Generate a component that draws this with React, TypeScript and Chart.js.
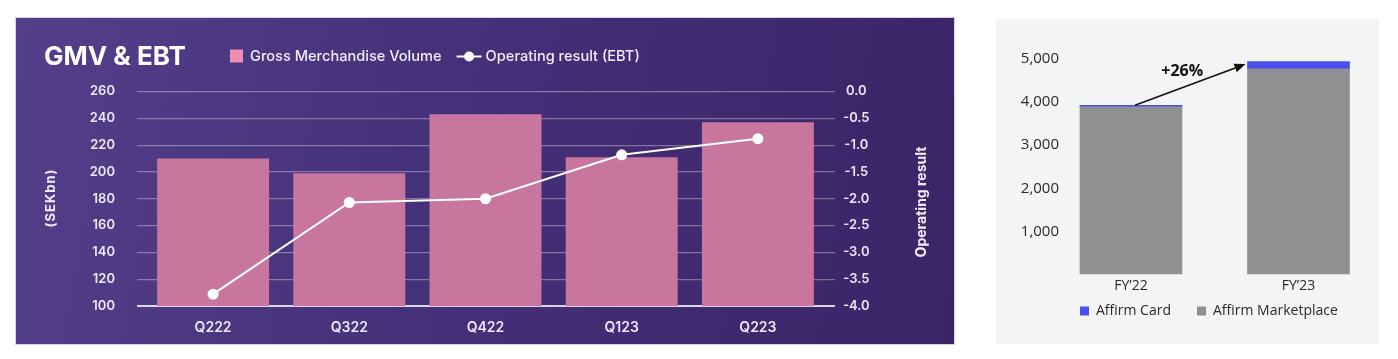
import React, { useEffect, useRef } from 'react';
import { Chart, registerables } from 'chart.js';

Chart.register(...registerables);

// ---------- Left chart data (Klarna) ----------
const quarters = ['Q222', 'Q322', 'Q422', 'Q123', 'Q223'];
const gmvValues = [210, 199, 243, 211, 237];
const ebtValues = [-3.78, -2.07, -2.0, -1.18, -0.88];
const leftTitle = 'GMV & EBT';
const gmvLabel = 'Gross Merchandise Volume';
const ebtLabel = 'Operating result (EBT)';
const leftAxisTitle = '(SEKbn)';
const rightAxisTitle = 'Operating result';

// ---------- Right chart data (Affirm) ----------
const fiscalYears = ['FY\u201922', 'FY\u201923'];
const affirmMarketplace = [3890, 4770];
const affirmCard = [35, 170];
const growthLabel = '+26%';

const LEFT_W = 938;
const LEFT_H = 326;
const RIGHT_W = 383;
const RIGHT_H = 325;

const TICK_COLOR = '#ebe6f3';
const BAR_PINK = '#c9769f';
const LEGEND_PINK = '#f08db3';

const leftOverlay = {
  id: 'leftOverlay',
  afterDraw(chart: any) {
    const ctx = chart.ctx as CanvasRenderingContext2D;
    ctx.save();
    // title
    ctx.fillStyle = '#ffffff';
    ctx.font = '700 26px Inter';
    ctx.textBaseline = 'alphabetic';
    ctx.textAlign = 'left';
    ctx.fillText(leftTitle, 28, 47);

    // legend
    const ly = 38.5;
    ctx.fillStyle = LEGEND_PINK;
    ctx.fillRect(214, 31.5, 13, 13);
    ctx.font = '500 14.6px Inter';
    ctx.fillStyle = '#f1ecf7';
    ctx.textBaseline = 'middle';
    const barLbl = chart.data.datasets[1].label;
    const lineLbl = chart.data.datasets[0].label;
    ctx.fillText(barLbl, 234, ly);
    const x = 234 + ctx.measureText(barLbl).width + 15;
    ctx.strokeStyle = '#ffffff';
    ctx.lineWidth = 2;
    ctx.beginPath();
    ctx.moveTo(x, ly);
    ctx.lineTo(x + 25, ly);
    ctx.stroke();
    ctx.fillStyle = '#ffffff';
    ctx.beginPath();
    ctx.arc(x + 12.5, ly, 5, 0, Math.PI * 2);
    ctx.fill();
    ctx.fillStyle = '#f1ecf7';
    ctx.fillText(lineLbl, x + 29, ly);

    // axis titles (both read bottom-to-top)
    ctx.fillStyle = '#f1ecf7';
    ctx.textAlign = 'center';
    ctx.font = '700 13px Inter';
    ctx.save();
    ctx.translate(35, 180);
    ctx.rotate(-Math.PI / 2);
    (ctx as any).letterSpacing = '1px';
    ctx.fillText(leftAxisTitle, 0, 0);
    ctx.restore();

    ctx.font = '700 14px Inter';
    ctx.save();
    ctx.translate(906, 184);
    ctx.rotate(-Math.PI / 2);
    ctx.fillText(rightAxisTitle, 0, 0);
    ctx.restore();

    ctx.restore();
  },
};

const rightOverlay = {
  id: 'rightOverlay',
  afterDraw(chart: any) {
    const ctx = chart.ctx as CanvasRenderingContext2D;
    const top = chart.getDatasetMeta(1).data;
    if (!top || top.length < 2) return;
    const a = top[0];
    const b = top[1];
    const x0 = a.x + 4;
    const y0 = a.y;
    const x1 = b.x - b.width / 2 - 2;
    const y1 = b.y + 2.5;
    ctx.save();
    ctx.strokeStyle = '#111';
    ctx.fillStyle = '#111';
    ctx.lineWidth = 1.6;
    const ang = Math.atan2(y1 - y0, x1 - x0);
    const headLen = 11;
    const hx = x1 - headLen * Math.cos(ang);
    const hy = y1 - headLen * Math.sin(ang);
    ctx.beginPath();
    ctx.moveTo(x0, y0);
    ctx.lineTo(hx, hy);
    ctx.stroke();
    ctx.beginPath();
    ctx.moveTo(x1, y1);
    ctx.lineTo(hx + 4.5 * Math.sin(ang), hy - 4.5 * Math.cos(ang));
    ctx.lineTo(hx - 4.5 * Math.sin(ang), hy + 4.5 * Math.cos(ang));
    ctx.closePath();
    ctx.fill();

    // growth label
    const mx = (x0 + x1) / 2;
    const my = (y0 + y1) / 2;
    ctx.font = '700 16px "Open Sans"';
    ctx.textAlign = 'center';
    ctx.textBaseline = 'middle';
    ctx.fillText(growthLabel, mx - 8, my - 13.5);

    // legend
    const ly = 292;
    ctx.font = '14px "Open Sans"';
    ctx.textAlign = 'left';
    ctx.fillStyle = chart.data.datasets[1].backgroundColor;
    ctx.fillRect(84, ly - 4.5, 9, 9);
    ctx.fillStyle = '#2a2a2a';
    const l1 = chart.data.datasets[1].label;
    ctx.fillText(l1, 100, ly);
    const x2 = 100 + ctx.measureText(l1).width + 26;
    ctx.fillStyle = chart.data.datasets[0].backgroundColor;
    ctx.fillRect(x2, ly - 4.5, 9, 9);
    ctx.fillStyle = '#2a2a2a';
    ctx.fillText(chart.data.datasets[0].label, x2 + 16, ly);
    ctx.restore();
  },
};

function LeftChart() {
  const ref = useRef<HTMLCanvasElement | null>(null);
  useEffect(() => {
    if (!ref.current) return;
    const gridColor = (c: any) =>
      c.tick && (c.tick.value === 100 || c.tick.value === -4)
        ? 'rgba(255,255,255,0.8)'
        : 'rgba(255,255,255,0.34)';
    const gridWidth = (c: any) =>
      c.tick && (c.tick.value === 100 || c.tick.value === -4) ? 2 : 1.2;
    const chart = new Chart(ref.current, {
      type: 'bar',
      data: {
        labels: quarters,
        datasets: [
          {
            type: 'line',
            label: ebtLabel,
            data: ebtValues,
            yAxisID: 'y1',
            borderColor: '#ffffff',
            backgroundColor: '#ffffff',
            borderWidth: 2,
            pointRadius: 5.5,
            pointBorderWidth: 0,
            pointBackgroundColor: '#ffffff',
            tension: 0,
            order: 0,
          } as any,
          {
            type: 'bar',
            label: gmvLabel,
            data: gmvValues,
            yAxisID: 'y',
            backgroundColor: BAR_PINK,
            categoryPercentage: 1,
            barPercentage: 0.822,
            order: 1,
          } as any,
        ],
      },
      options: {
        animation: false,
        responsive: false,
        maintainAspectRatio: false,
        layout: { padding: { top: 73.5, left: 0, right: 0, bottom: 0 } },
        plugins: {
          legend: { display: false },
          tooltip: { enabled: false },
        },
        scales: {
          x: {
            grid: { display: false, drawTicks: false },
            border: { display: false },
            ticks: {
              color: TICK_COLOR,
              font: { family: 'Inter', size: 14, weight: 600 },
              padding: 13,
            },
            afterFit(s: any) {
              s.height = 38;
            },
          },
          y: {
            position: 'left',
            min: 100,
            max: 260,
            z: 1,
            ticks: {
              stepSize: 20,
              color: TICK_COLOR,
              font: { family: 'Inter', size: 13, weight: 600 },
              padding: 22,
            },
            grid: { color: gridColor, lineWidth: gridWidth, tickLength: 8 },
            border: { display: false },
            afterFit(s: any) {
              s.width = 129;
            },
          },
          y1: {
            position: 'right',
            min: -4,
            max: 0,
            ticks: {
              stepSize: 0.5,
              color: TICK_COLOR,
              font: { family: 'Inter', size: 13, weight: 600 },
              padding: 8,
              crossAlign: 'center',
              callback: (v: any) => Number(v).toFixed(1),
            },
            grid: {
              drawOnChartArea: false,
              color: gridColor,
              lineWidth: gridWidth,
              tickLength: 9,
            },
            border: { display: false },
            afterFit(s: any) {
              s.width = 128;
            },
          },
        },
      } as any,
      plugins: [leftOverlay],
    });
    return () => chart.destroy();
  }, []);
  return <canvas ref={ref} width={LEFT_W} height={LEFT_H} style={{ display: 'block' }} />;
}

function RightChart() {
  const ref = useRef<HTMLCanvasElement | null>(null);
  useEffect(() => {
    if (!ref.current) return;
    const chart = new Chart(ref.current, {
      type: 'bar',
      data: {
        labels: fiscalYears,
        datasets: [
          {
            label: 'Affirm Marketplace',
            data: affirmMarketplace,
            backgroundColor: '#8f9091',
            stack: 's',
            barThickness: 102,
            clip: false,
          } as any,
          {
            label: 'Affirm Card',
            data: affirmCard,
            backgroundColor: '#4b4ff0',
            stack: 's',
            barThickness: 102,
            clip: false,
          } as any,
        ],
      },
      options: {
        animation: false,
        responsive: false,
        maintainAspectRatio: false,
        layout: { padding: { top: 40, left: 0, right: 80.5, bottom: 0 } },
        plugins: {
          legend: { display: false },
          tooltip: { enabled: false },
        },
        scales: {
          x: {
            stacked: true,
            offset: false,
            grid: { display: false, drawTicks: false },
            border: { display: false },
            ticks: {
              color: '#2a2a2a',
              font: { family: 'Open Sans', size: 14 },
              padding: 3,
            },
            afterFit(s: any) {
              s.height = 69.5;
            },
          },
          y: {
            stacked: true,
            min: 0,
            max: 5000,
            grid: {
              display: true,
              drawOnChartArea: false,
              drawTicks: true,
              tickLength: 66,
              color: 'rgba(0,0,0,0)',
            },
            border: { display: false },
            ticks: {
              stepSize: 1000,
              color: '#2a2a2a',
              font: { family: 'Open Sans', size: 15 },
              padding: 6,
              callback: (v: any) => (Number(v) === 0 ? '' : Number(v).toLocaleString('en-US')),
            },
            afterFit(s: any) {
              s.width = 135;
            },
          },
        },
      } as any,
      plugins: [rightOverlay],
    });
    return () => chart.destroy();
  }, []);
  return <canvas ref={ref} width={RIGHT_W} height={RIGHT_H} style={{ display: 'block' }} />;
}

export default function App() {
  return (
    <div style={{ position: 'relative', width: 1382, height: 343 }}>
      <div
        style={{
          position: 'absolute',
          left: 16 - 8,
          top: 18 - 8,
          width: LEFT_W,
          height: LEFT_H,
          background: 'linear-gradient(100deg, #54408a 0%, #45307a 45%, #3b2466 100%)',
          outline: '1px solid rgba(190,180,220,0.6)',
        }}
      >
        <LeftChart />
      </div>
      <div
        style={{
          position: 'absolute',
          left: 996 - 8,
          top: 19 - 8,
          width: RIGHT_W,
          height: RIGHT_H,
          background: '#f3f4f4',
        }}
      >
        <RightChart />
      </div>
    </div>
  );
}
